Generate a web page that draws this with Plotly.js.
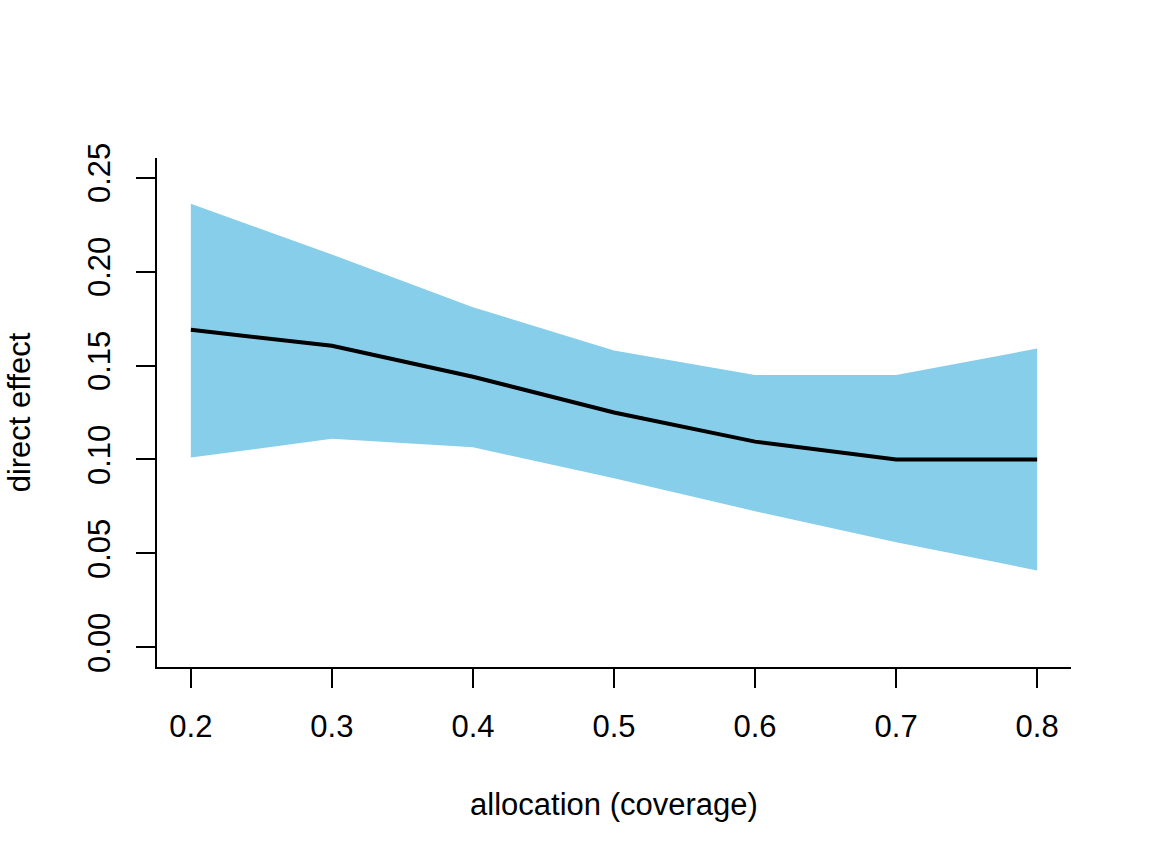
<!DOCTYPE html>
<html>
<head>
<meta charset="utf-8">
<script src="https://cdn.plot.ly/plotly-3.0.1.min.js"></script>
<style>html,body{margin:0;padding:0;background:#fff;}#chart{width:1152px;height:864px;}</style>
</head>
<body>
<div id="chart"></div>
<script>
// Data
var allocation = [0.2, 0.3, 0.4, 0.5, 0.6, 0.7, 0.8];
var effectMean = [0.169, 0.1605, 0.144, 0.125, 0.1095, 0.100, 0.100];
var effectUpper = [0.236, 0.209, 0.181, 0.158, 0.145, 0.145, 0.159];
var effectLower = [0.101, 0.111, 0.1065, 0.090, 0.0725, 0.056, 0.041];
var xTicks = [0.2, 0.3, 0.4, 0.5, 0.6, 0.7, 0.8];
var xTickLabels = ["0.2", "0.3", "0.4", "0.5", "0.6", "0.7", "0.8"];
var yTicks = [0.00, 0.05, 0.10, 0.15, 0.20, 0.25];
var yTickLabels = ["0.00", "0.05", "0.10", "0.15", "0.20", "0.25"];

var font = "Liberation Sans, Arial, sans-serif";
var fs = 31;

var bandX = allocation.concat(allocation.slice().reverse());
var bandY = effectUpper.concat(effectLower.slice().reverse());

var traces = [
  {
    x: bandX, y: bandY, type: "scatter", mode: "lines",
    fill: "toself", fillcolor: "#87CEEB",
    line: {width: 0, color: "#87CEEB"}, hoverinfo: "skip", showlegend: false
  },
  {
    x: allocation, y: effectMean, type: "scatter", mode: "lines",
    line: {color: "#000000", width: 4}, showlegend: false
  }
];

var layout = {
  width: 1152, height: 864,
  margin: {l: 157, r: 81, t: 158, b: 197, pad: 0},
  paper_bgcolor: "#ffffff", plot_bgcolor: "#ffffff",
  font: {family: font, size: fs, color: "#000000"},
  showlegend: false,
  xaxis: {
    range: [0.176, 0.824], showgrid: false, zeroline: false,
    showline: true, linecolor: "#000", linewidth: 2,
    ticks: "outside", ticklen: 19, tickwidth: 2, tickcolor: "#000",
    tickmode: "array", tickvals: xTicks, ticktext: xTickLabels,
    tickfont: {family: font, size: fs, color: "#000"},
    ticklabelstandoff: 12,
    title: {text: "allocation (coverage)", font: {family: font, size: fs, color: "#000"}, standoff: 50},
    automargin: false
  },
  yaxis: {
    range: [-0.0104, 0.2604], showgrid: false, zeroline: false,
    showline: true, linecolor: "#000", linewidth: 2,
    ticks: "outside", ticklen: 19, tickwidth: 2, tickcolor: "#000",
    tickmode: "array", tickvals: yTicks, ticktext: yTickLabels,
    tickangle: -90,
    tickfont: {family: font, size: fs, color: "#000"},
    ticklabelstandoff: 14,
    title: {text: "direct effect", font: {family: font, size: fs, color: "#000"}, standoff: 42},
    automargin: false
  }
};

Plotly.newPlot("chart", traces, layout, {displayModeBar: false, staticPlot: true});
</script>
</body>
</html>
